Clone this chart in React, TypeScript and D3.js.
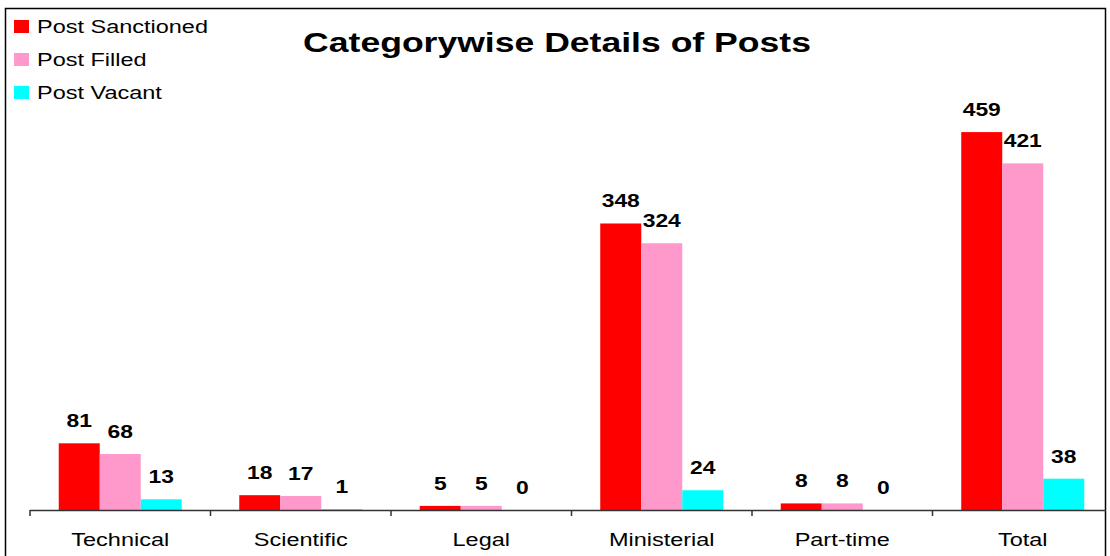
import React, { useRef, useEffect } from 'react';
import * as d3 from 'd3';

const categories = ['Technical', 'Scientific', 'Legal', 'Ministerial', 'Part-time', 'Total'];
const seriesNames = ['Post Sanctioned', 'Post Filled', 'Post Vacant'];
const sanctioned = [81, 18, 5, 348, 8, 459];
const filled = [68, 17, 5, 324, 8, 421];
const vacant = [13, 1, 0, 24, 0, 38];
const colors = ['#ff0000', '#ff99cc', '#00ffff'];

const W = 1110;
const H = 556;
// the source picture is stretched sideways, so text gets a horizontal scale
const SX = 1.27;

const App = () => {
  const ref = useRef<SVGSVGElement>(null);

  useEffect(() => {
    const svg = d3.select(ref.current)
      .attr('width', W)
      .attr('height', H);

    svg.selectAll('*').remove();

    const values = [sanctioned, filled, vacant];

    const x0 = d3.scaleBand<string>()
      .domain(categories)
      .range([30, 1113])
      .padding(0);

    const x1 = d3.scaleBand<string>()
      .domain(seriesNames)
      .range([-61.5, 61.5])
      .padding(0);

    const y = d3.scaleLinear()
      .domain([0, 600])
      .range([510, 16]);

    const stretched = (sel, tx, ty) =>
      sel.attr('transform', `translate(${tx},${ty}) scale(${SX},1)`);

    // outer frame
    svg.append('rect')
      .attr('x', 5.5)
      .attr('y', 8.5)
      .attr('width', 1100)
      .attr('height', 560)
      .attr('fill', 'white')
      .attr('stroke', '#000')
      .attr('stroke-width', 1.5);

    // bars
    seriesNames.forEach((s, si) => {
      const g = svg.append('g');
      g.selectAll('rect')
        .data(values[si])
        .enter().append('rect')
        .attr('x', (d, i) => x0(categories[i]) + x0.bandwidth() / 2 + x1(s))
        .attr('y', d => y(d))
        .attr('width', x1.bandwidth())
        .attr('height', d => y(0) - y(d))
        .attr('fill', colors[si]);

      g.selectAll('text')
        .data(values[si])
        .enter().append('text')
        .each(function (d, i) {
          const cx = x0(categories[i]) + x0.bandwidth() / 2 + x1(s) + x1.bandwidth() / 2;
          stretched(d3.select(this), cx, y(d) - 16);
        })
        .attr('text-anchor', 'middle')
        .attr('font-family', 'Arial, "Liberation Sans", sans-serif')
        .attr('font-weight', 'bold')
        .attr('font-size', 18)
        .attr('fill', '#000')
        .text(d => d);
    });

    // x axis
    const axis = svg.append('g');
    axis.append('line')
      .attr('x1', 30)
      .attr('x2', 1106)
      .attr('y1', y(0) + 0.5)
      .attr('y2', y(0) + 0.5)
      .attr('stroke', '#333')
      .attr('stroke-width', 1.5);

    axis.selectAll('.tick')
      .data(categories)
      .enter().append('line')
      .attr('class', 'tick')
      .attr('x1', d => x0(d))
      .attr('x2', d => x0(d))
      .attr('y1', y(0))
      .attr('y2', y(0) + 6)
      .attr('stroke', '#333')
      .attr('stroke-width', 1.5);

    axis.selectAll('.cat')
      .data(categories)
      .enter().append('text')
      .attr('class', 'cat')
      .each(function (d) {
        stretched(d3.select(this), x0(d) + x0.bandwidth() / 2, 546);
      })
      .attr('text-anchor', 'middle')
      .attr('font-family', 'Arial, "Liberation Sans", sans-serif')
      .attr('font-size', 18.5)
      .attr('fill', '#000')
      .text(d => d);

    // title
    svg.append('text')
      .call(stretched, 557, 52)
      .attr('text-anchor', 'middle')
      .attr('font-family', 'Arial, "Liberation Sans", sans-serif')
      .attr('font-weight', 'bold')
      .attr('font-size', 28)
      .attr('fill', '#000')
      .text('Categorywise Details of Posts');

    // legend
    const legend = svg.append('g');
    seriesNames.forEach((s, i) => {
      legend.append('rect')
        .attr('x', 14)
        .attr('y', 20 + i * 33)
        .attr('width', 15)
        .attr('height', 13)
        .attr('fill', colors[i]);
      legend.append('text')
        .call(stretched, 37, 33 + i * 33)
        .attr('font-family', 'Arial, "Liberation Sans", sans-serif')
        .attr('font-size', 18.5)
        .attr('fill', '#000')
        .text(s);
    });
  }, []);

  return <svg ref={ref} style={{ position: 'absolute', left: 0, top: 0 }}></svg>;
};

export default App;
